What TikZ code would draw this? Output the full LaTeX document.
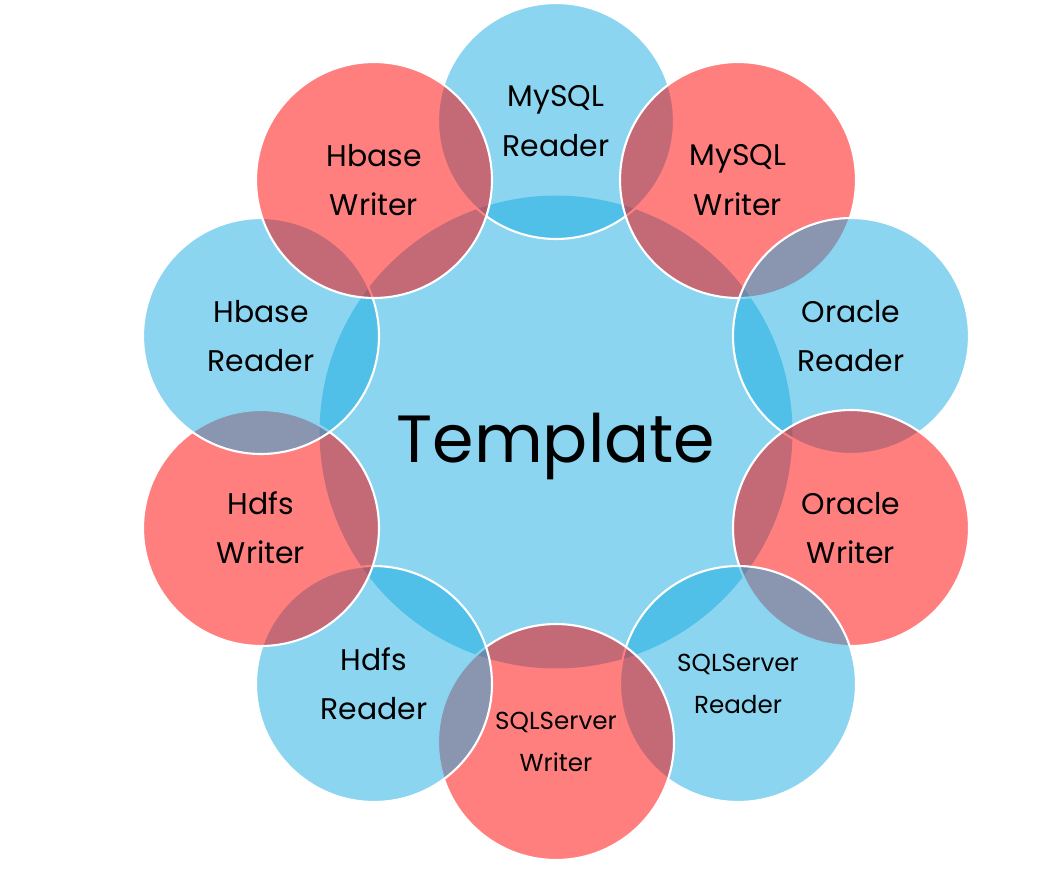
\documentclass[tikz,border=0pt]{standalone}
\usepackage{fontspec}
\setmainfont{Poppins}
\usepackage{tikz}
\definecolor{tplblue}{RGB}{23,171,225}
\definecolor{tplred}{RGB}{255,0,0}

\begin{document}
\begin{tikzpicture}
  [x=0.02cm,y=-0.02cm]
      \tikzstyle{blue_style} = [circle, fill=tplblue, fill opacity=0.5, text opacity=1, draw=white, line width=1.2pt, minimum size=4.72cm, inner sep=0pt, align=center, font=\fontsize{17}{28}\selectfont]
      \tikzstyle{red_style} = [blue_style, fill=tplred]
  \useasboundingbox (0,0) rectangle (1064,886);
  \node[circle, fill=tplblue, fill opacity=0.5, text opacity=1, minimum size=9.46cm, inner sep=0pt, text height=35pt, text depth=0pt, font=\fontsize{38}{46}\selectfont] (template) at (556,432) {Template};
  \node[blue_style] (mysql_reader) at (556,121) {MySQL\\Reader};
  \node[red_style] (mysql_writer) at (738,180) {MySQL\\Writer};
  \node[blue_style] (oracle_reader) at (851,336) {Oracle\\Reader};
  \node[red_style] (oracle_writer) at (851,528) {Oracle\\Writer};
  \node[blue_style, font=\fontsize{14}{24}\selectfont] (sqlserver_reader) at (738,684) {SQLServer\\Reader};
  \node[red_style, font=\fontsize{14}{24}\selectfont] (sqlserver_writer) at (556,742) {SQLServer\\Writer};
  \node[blue_style] (hdfs_reader) at (374,684) {Hdfs\\Reader};
  \node[red_style] (hdfs_writer) at (261,528) {Hdfs\\Writer};
  \node[blue_style] (hbase_reader) at (261,336) {Hbase\\Reader};
  \node[red_style] (hbase_writer) at (374,180) {Hbase\\Writer};
\end{tikzpicture}
\end{document}
